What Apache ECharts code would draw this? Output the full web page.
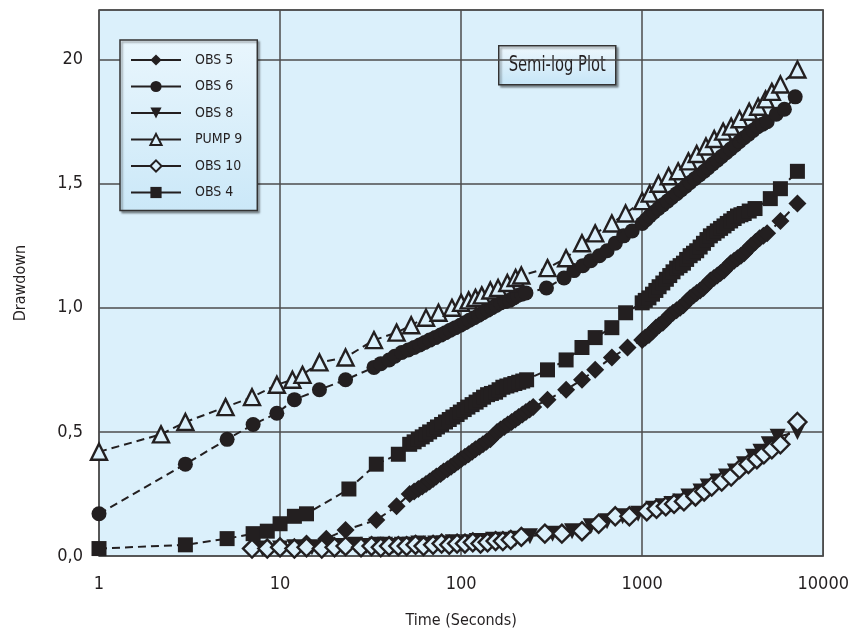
<!DOCTYPE html>
<html><head><meta charset="utf-8">
<script src="https://cdn.jsdelivr.net/npm/echarts@6/dist/echarts.min.js"></script>
<style>html,body{margin:0;padding:0;background:#fff}#c{width:852px;height:637px}</style>
</head><body><div id="c"></div>
<script>
// ---- data ----
const seriesNames = ['OBS 5','OBS 6','OBS 8','PUMP 9','OBS 10','OBS 4'];
const xTickLabels = ['1','10','100','1000','10000'];
const yTickLabels = ['0,0','0,5','1,0','1,5','20'];
const titleText = 'Semi-log Plot';
const xName = 'Time (Seconds)';
const yName = 'Drawdown';

const obs5 = [[10,0.03],[14,0.05],[18,0.07],[23,0.105],[34,0.145],[44,0.2],[52,0.25],[55,0.26],[58,0.27],[61,0.28],[64,0.29],[67,0.30],[70,0.31],[73,0.32],[77,0.33],[80,0.34],[84,0.35],[88,0.36],[92,0.37],[96,0.38],[100,0.39],[105,0.40],[110,0.41],[115,0.42],[120,0.43],[126,0.44],[132,0.45],[138,0.46],[145,0.47],[151,0.485],[158,0.5],[165,0.51],[173,0.52],[181,0.53],[190,0.54],[199,0.55],[208,0.56],[218,0.57],[228,0.58],[239,0.59],[250,0.6],[300,0.63],[380,0.67],[465,0.71],[550,0.75],[680,0.8],[830,0.84],[1000,0.87],[1040,0.88],[1090,0.89],[1140,0.905],[1190,0.92],[1240,0.93],[1300,0.94],[1360,0.955],[1420,0.97],[1480,0.98],[1550,0.99],[1620,1.0],[1690,1.01],[1760,1.025],[1840,1.04],[1920,1.05],[2000,1.06],[2090,1.07],[2180,1.08],[2280,1.095],[2380,1.11],[2490,1.12],[2600,1.13],[2710,1.14],[2830,1.15],[2950,1.165],[3080,1.18],[3220,1.19],[3360,1.2],[3510,1.21],[3660,1.22],[3820,1.235],[4000,1.25],[4220,1.265],[4450,1.28],[4670,1.29],[4900,1.3],[5800,1.35],[7200,1.42]];

const obs6 = [[1,0.17],[3,0.37],[5.1,0.47],[7.1,0.53],[9.6,0.575],[12,0.63],[16.5,0.67],[23,0.71],[33,0.76],[36,0.775],[40,0.79],[43,0.805],[47,0.82],[51,0.83],[55,0.84],[59,0.85],[63,0.86],[67,0.87],[72,0.88],[77,0.89],[82,0.9],[87,0.91],[93,0.92],[99,0.93],[105,0.94],[111,0.95],[118,0.96],[125,0.97],[132,0.98],[140,0.99],[148,1.0],[156,1.01],[165,1.02],[175,1.025],[185,1.03],[195,1.04],[205,1.05],[216,1.055],[228,1.06],[296,1.08],[370,1.12],[420,1.15],[470,1.17],[520,1.19],[580,1.21],[640,1.23],[710,1.26],[790,1.29],[880,1.31],[1000,1.34],[1050,1.355],[1100,1.37],[1160,1.385],[1230,1.4],[1300,1.415],[1380,1.43],[1460,1.445],[1550,1.46],[1640,1.475],[1740,1.49],[1840,1.505],[1950,1.52],[2070,1.535],[2200,1.55],[2320,1.565],[2450,1.58],[2600,1.595],[2750,1.61],[2910,1.625],[3080,1.64],[3260,1.655],[3450,1.67],[3650,1.685],[3870,1.7],[4100,1.715],[4350,1.73],[4620,1.74],[4900,1.75],[5500,1.78],[6100,1.8],[7000,1.85]];

const obs8 = [[8,0.03],[10,0.03],[12,0.035],[15,0.035],[18,0.04],[22,0.04],[26,0.045],[30,0.04],[34,0.045],[38,0.045],[42,0.04],[47,0.045],[52,0.045],[58,0.05],[64,0.045],[72,0.05],[80,0.05],[90,0.055],[100,0.05],[110,0.055],[122,0.06],[135,0.06],[150,0.065],[165,0.06],[182,0.065],[200,0.07],[240,0.08],[320,0.09],[410,0.1],[520,0.12],[640,0.14],[780,0.16],[950,0.17],[1150,0.19],[1300,0.2],[1450,0.21],[1620,0.22],[1800,0.24],[2100,0.26],[2300,0.28],[2600,0.3],[2900,0.32],[3250,0.34],[3650,0.37],[4100,0.4],[4500,0.42],[5000,0.45],[5600,0.48],[7200,0.5]];

const pump9 = [[1,0.42],[2.2,0.49],[3,0.54],[5,0.6],[7,0.64],[9.6,0.69],[11.7,0.71],[13.3,0.73],[16.5,0.78],[23,0.8],[33,0.87],[44,0.9],[53,0.93],[64,0.96],[75,0.98],[89,1.0],[100,1.02],[110,1.03],[120,1.04],[130,1.05],[145,1.07],[160,1.08],[180,1.1],[200,1.12],[215,1.13],[300,1.16],[380,1.2],[465,1.26],[550,1.3],[680,1.34],[810,1.38],[1000,1.43],[1100,1.46],[1230,1.5],[1400,1.53],[1580,1.55],[1800,1.59],[2000,1.62],[2250,1.65],[2500,1.68],[2800,1.71],[3100,1.73],[3450,1.76],[3900,1.79],[4370,1.81],[4800,1.84],[5200,1.87],[5800,1.9],[7200,1.96]];

const obs10 = [[7,0.03],[8.5,0.03],[10,0.035],[12,0.03],[14,0.035],[17,0.03],[20,0.035],[23,0.04],[28,0.035],[32,0.04],[36,0.035],[40,0.04],[45,0.04],[50,0.04],[56,0.045],[62,0.04],[70,0.045],[78,0.05],[86,0.045],[95,0.05],[105,0.05],[116,0.055],[128,0.05],[140,0.055],[155,0.06],[170,0.06],[188,0.065],[215,0.077],[290,0.09],[360,0.09],[465,0.1],[575,0.13],[710,0.16],[850,0.16],[1060,0.18],[1200,0.19],[1350,0.2],[1500,0.21],[1700,0.22],[1970,0.24],[2200,0.26],[2420,0.28],[2750,0.3],[3100,0.32],[3450,0.35],[3860,0.37],[4300,0.39],[4700,0.41],[5200,0.43],[5800,0.45],[7200,0.54]];

const obs4 = [[1,0.03],[3,0.045],[5.1,0.07],[7.1,0.09],[8.5,0.1],[10,0.13],[12,0.16],[14,0.17],[24,0.27],[34,0.37],[45,0.41],[52,0.45],[55,0.46],[58,0.47],[61,0.48],[64,0.49],[67,0.5],[71,0.51],[74,0.52],[78,0.53],[82,0.54],[86,0.55],[90,0.56],[95,0.57],[99,0.58],[104,0.59],[109,0.6],[115,0.61],[121,0.62],[127,0.63],[133,0.64],[140,0.65],[147,0.655],[155,0.66],[162,0.67],[170,0.68],[179,0.685],[188,0.69],[198,0.695],[208,0.7],[219,0.705],[230,0.71],[300,0.75],[380,0.79],[465,0.84],[550,0.88],[680,0.92],[810,0.98],[1000,1.02],[1040,1.03],[1090,1.04],[1140,1.055],[1190,1.07],[1240,1.085],[1300,1.1],[1360,1.115],[1420,1.13],[1480,1.145],[1550,1.16],[1620,1.17],[1690,1.18],[1760,1.195],[1840,1.21],[1920,1.22],[2000,1.23],[2090,1.245],[2180,1.26],[2280,1.275],[2380,1.29],[2490,1.3],[2600,1.31],[2710,1.32],[2830,1.33],[2950,1.34],[3080,1.35],[3220,1.36],[3360,1.37],[3510,1.375],[3660,1.38],[3900,1.39],[4200,1.4],[5100,1.44],[5800,1.48],[7200,1.55]];

const seriesData = [obs5, obs6, obs8, pump9, obs10, obs4];

// ---- styles ----
const FONT = "'DejaVu Sans Condensed','Liberation Sans Narrow',sans-serif";
const INK = '#231f20';
const BG = '#dbf0fb';
const symbolDefs = [
  {symbol:'diamond', size:18, rotate:0, fill:INK},
  {symbol:'circle', size:15, rotate:0, fill:INK},
  {symbol:'triangle', size:16, rotate:180, fill:INK},
  {symbol:'triangle', size:16, rotate:0, fill:BG},
  {symbol:'diamond', size:18, rotate:0, fill:BG},
  {symbol:'rect', size:15, rotate:0, fill:INK}
];

const series = seriesNames.map((name, i) => ({
  name: name,
  type: 'line',
  data: seriesData[i],
  symbol: symbolDefs[i].symbol,
  symbolSize: symbolDefs[i].size,
  symbolRotate: symbolDefs[i].rotate,
  showAllSymbol: true,
  clip: true,
  lineStyle: {color: INK, width: 2, type: [8,5]},
  itemStyle: {color: symbolDefs[i].fill, borderColor: INK, borderWidth: symbolDefs[i].fill === BG ? 2.4 : 0, opacity: 1},
  emphasis: {disabled: true},
  z: 3 + i
}));

const chart = echarts.init(document.getElementById('c'), null, {renderer: 'canvas'});
chart.setOption({
  animation: false,
  backgroundColor: '#ffffff',
  grid: {left: 99, top: 10, right: 27, bottom: 81, show: true, backgroundColor: BG, borderColor: '#4d4d4d', borderWidth: 1.5},
  xAxis: {
    type: 'log', logBase: 10, min: 1, max: 10000,
    name: xName, nameLocation: 'middle', nameGap: 57,
    nameTextStyle: {fontFamily: FONT, fontSize: 16, color: INK},
    axisLine: {show: false},
    axisTick: {show: false},
    minorTick: {show: false},
    splitLine: {show: true, lineStyle: {color: '#4d4d4d', width: 1.5}},
    axisLabel: {
      fontFamily: FONT, fontSize: 18, color: INK, margin: 19,
      formatter: v => xTickLabels[Math.round(Math.log10(v))]
    }
  },
  yAxis: {
    type: 'value', min: 0, max: 2.2, interval: 0.5,
    name: yName, nameLocation: 'middle', nameGap: 70, nameRotate: 90,
    nameTextStyle: {fontFamily: FONT, fontSize: 16, color: INK},
    axisLine: {show: false},
    axisTick: {show: false},
    splitLine: {show: true, lineStyle: {color: '#4d4d4d', width: 1.5}},
    axisLabel: {
      fontFamily: FONT, fontSize: 18, color: INK, margin: 16, showMaxLabel: false,
      formatter: v => { const k = Math.round(v / 0.5); return (Math.abs(v - k*0.5) < 1e-6 && yTickLabels[k]) ? yTickLabels[k] : ''; }
    }
  },
  legend: {
    orient: 'vertical', left: 120, top: 40,
    data: seriesNames,
    itemWidth: 50, itemHeight: 14, itemGap: 12.5,
    padding: [13, 15, 11, 10],
    backgroundColor: {type:'linear', x:0, y:0, x2:0, y2:1, colorStops:[{offset:0,color:'#e9f6fd'},{offset:1,color:'#cbe8f8'}]},
    borderColor: '#333', borderWidth: 1.5,
    shadowColor: 'rgba(0,0,0,0.35)', shadowBlur: 2, shadowOffsetX: 2, shadowOffsetY: 2,
    lineStyle: {type: 'solid', width: 2, color: INK},
    selectedMode: false,
    textStyle: {fontFamily: FONT, fontSize: 14, color: INK, lineHeight: 14, height: 14, padding: [0,0,0,9]}
  },
  graphic: [{
    type: 'group', left: 498, top: 45, z: 100,
    children: [
      {type: 'rect', shape: {x: 0, y: 0, width: 117, height: 39},
       style: {fill: {type:'linear', x:0, y:0, x2:0, y2:1, colorStops:[{offset:0,color:'#eef8fd'},{offset:1,color:'#c6e5f7'}]},
               stroke: '#333', lineWidth: 1.5, shadowColor:'rgba(0,0,0,0.35)', shadowBlur:2, shadowOffsetX:2, shadowOffsetY:2}},
      {type: 'text', x: 58.5, y: 20, scaleX: 0.78, originX: 0, originY: 0,
       style: {text: titleText, font: "21px " + FONT, fill: INK, align: 'center', verticalAlign: 'middle'}}
    ]
  }],
  series: series
});
</script></body></html>
